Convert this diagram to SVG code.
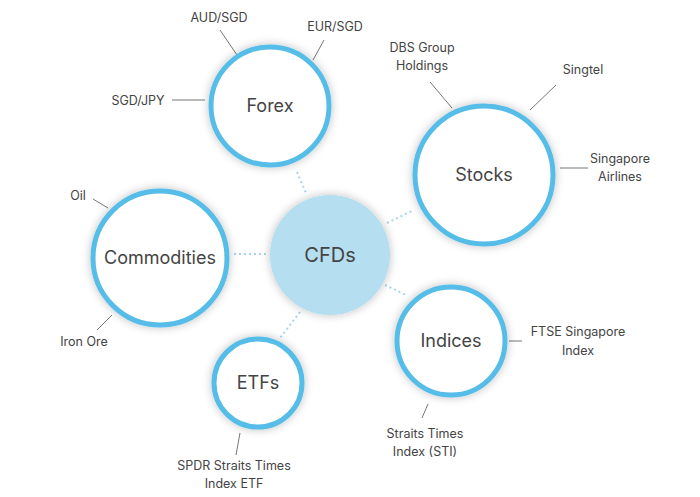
<svg xmlns="http://www.w3.org/2000/svg" width="700" height="497" viewBox="0 0 700 497">
<defs>
<filter id="sh" x="-30%" y="-30%" width="160%" height="160%"><feGaussianBlur in="SourceAlpha" stdDeviation="5"/><feComponentTransfer><feFuncA type="linear" slope="0.25"/></feComponentTransfer><feMerge><feMergeNode/><feMergeNode in="SourceGraphic"/></feMerge></filter>
<style>
.n{fill:#fff;stroke:#56bde8;stroke-width:5;filter:url(#sh)}
.t{font-family:Inter,"Liberation Sans",sans-serif;fill:#444;text-anchor:middle}
.big{font-size:18px}
.s{font-size:12.5px}
.l{stroke:#777;stroke-width:1}
.d{stroke:#a8d4ea;stroke-width:2;stroke-dasharray:2 3}
</style>
</defs>
<rect width="700" height="497" fill="#fff"/>
<g id="connectors">
<line class="d" x1="297" y1="172" x2="306" y2="193"/>
<line class="d" x1="387" y1="223" x2="414" y2="210"/>
<line class="d" x1="234" y1="254" x2="266" y2="254"/>
<line class="d" x1="385" y1="285" x2="406" y2="295"/>
<line class="d" x1="300" y1="312" x2="280" y2="338"/>
<line class="l" x1="220" y1="30" x2="237" y2="55"/>
<line class="l" x1="324" y1="40" x2="313" y2="60"/>
<line class="l" x1="172" y1="100" x2="205" y2="100"/>
<line class="l" x1="430" y1="82" x2="452" y2="108"/>
<line class="l" x1="556" y1="85" x2="530" y2="110"/>
<line class="l" x1="560" y1="168" x2="588" y2="168"/>
<line class="l" x1="93" y1="199" x2="108" y2="208"/>
<line class="l" x1="97" y1="330" x2="112" y2="315"/>
<line class="l" x1="509" y1="341" x2="522" y2="341"/>
<line class="l" x1="428" y1="404" x2="422" y2="418"/>
<line class="l" x1="240" y1="433" x2="236" y2="455"/>
</g>
<g id="cfds"><circle cx="330" cy="255" r="60" fill="#b5def0" filter="url(#sh)"/><text class="t" x="330" y="262" font-size="20">CFDs</text></g>
<g id="forex"><circle class="n" cx="270" cy="106" r="59"/><text class="t big" x="270" y="112">Forex</text>
<text class="t s" x="219" y="22">AUD/SGD</text><text class="t s" x="335" y="31">EUR/SGD</text><text class="t s" x="138" y="105">SGD/JPY</text></g>
<g id="stocks"><circle class="n" cx="484" cy="175" r="69"/><text class="t big" x="484" y="181">Stocks</text>
<text class="t s" x="422" y="52">DBS Group</text><text class="t s" x="422" y="70">Holdings</text><text class="t s" x="583" y="74">Singtel</text><text class="t s" x="620" y="163">Singapore</text><text class="t s" x="620" y="181">Airlines</text></g>
<g id="commodities"><circle class="n" cx="160" cy="258" r="67"/><text class="t big" x="160" y="264">Commodities</text>
<text class="t s" x="78" y="200">Oil</text><text class="t s" x="84" y="346">Iron Ore</text></g>
<g id="indices"><circle class="n" cx="451" cy="341" r="54"/><text class="t big" x="451" y="347">Indices</text>
<text class="t s" x="578" y="336">FTSE Singapore</text><text class="t s" x="578" y="355">Index</text><text class="t s" x="425" y="438">Straits Times</text><text class="t s" x="425" y="456">Index (STI)</text></g>
<g id="etfs"><circle class="n" cx="258" cy="383" r="44"/><text class="t big" x="258" y="389">ETFs</text>
<text class="t s" x="234" y="470">SPDR Straits Times</text><text class="t s" x="234" y="488">Index ETF</text></g>
</svg>
